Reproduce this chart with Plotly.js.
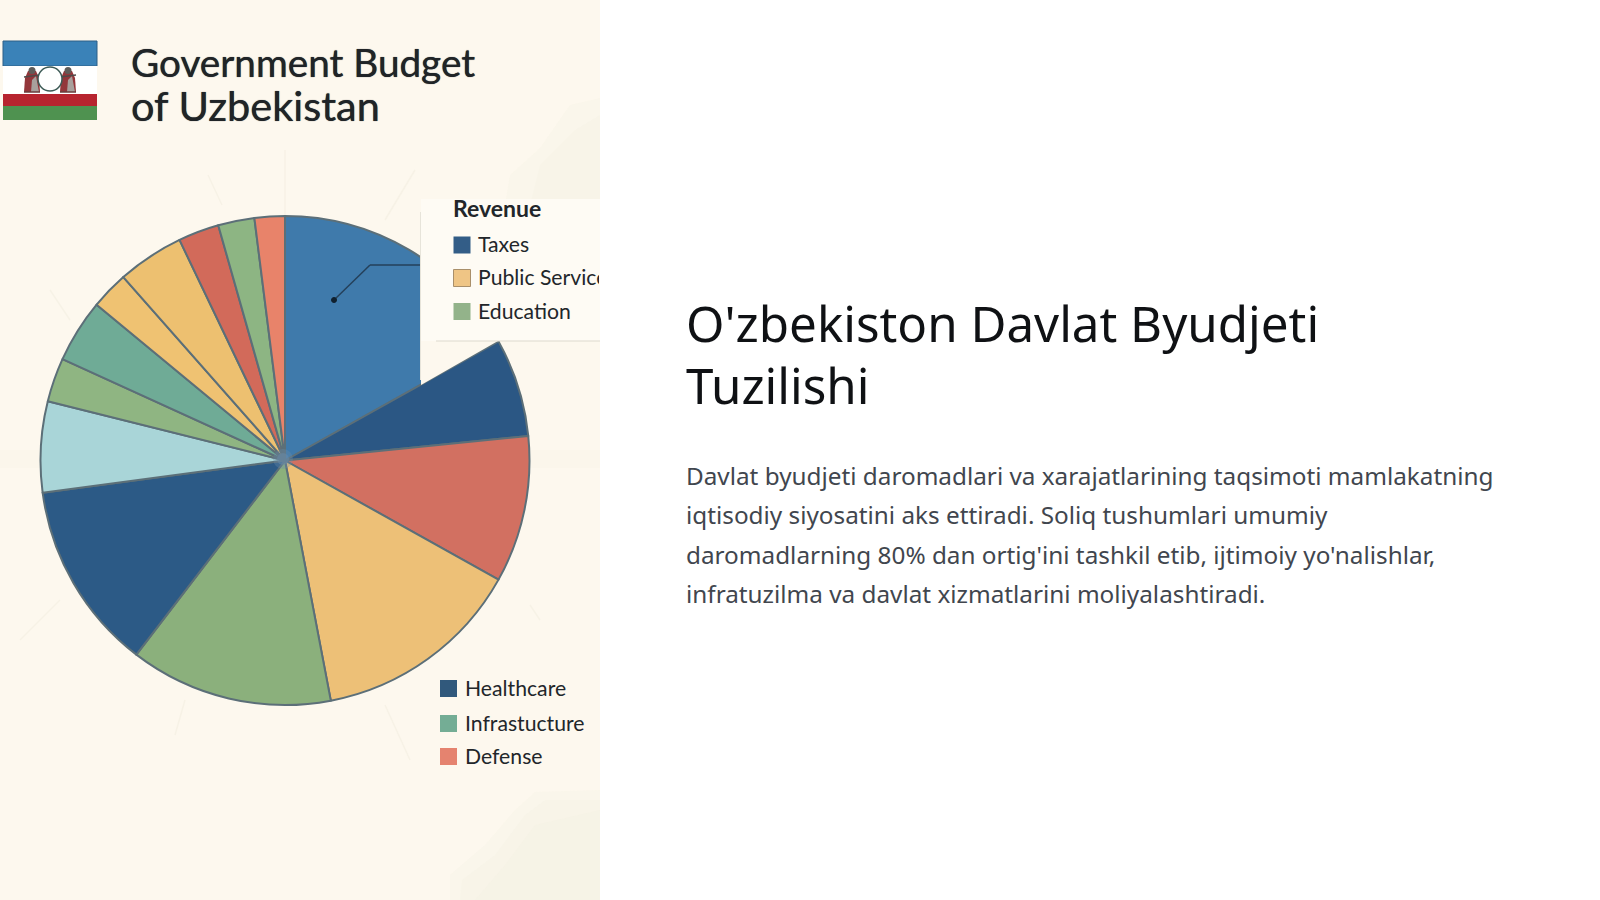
<!DOCTYPE html>
<html><head><meta charset="utf-8">
<script src="https://cdn.plot.ly/plotly-3.0.1.min.js"></script>
<style>html,body{margin:0;padding:0;background:#fff}#c{width:1600px;height:900px}</style>
</head><body><div id="c"></div>
<script>
const sliceLabels = ["Taxes A","Taxes B","Defense A","Public Service A","Education A","Healthcare A","Other A","Education B","Infrastucture A","Public Service B","Public Service C","Defense B","Education C","Defense C"];
const sliceValues = [16.9,6.5,9.7,13.9,13.4,12.5,6.0,2.9,4.2,2.5,4.4,2.7,2.4,2.0];
const sliceColors = ["#3f7aab","#2b5784","#d27061","#edc077","#8bb07c","#2c5a86","#a9d5d8","#8fb582","#6fab96","#efc272","#edc070","#d26a5a","#8db583","#e8836a"];

const topLegendTitle = "Revenue";
const topLegendLabels = ["Taxes","Public Service","Education"];
const topLegendColors = ["#335d87","#efc585","#93b38a"];
const bottomLegendLabels = ["Healthcare","Infrastucture","Defense"];
const bottomLegendColors = ["#31597c","#74ad95","#e5836f"];

const chartTitleLines = ["Government Budget","of Uzbekistan"];
const chartTitleSizes = [38.7,41.5];
const headingLines = ["O'zbekiston Davlat Byudjeti","Tuzilishi"];
const bodyLines = [
  "Davlat byudjeti daromadlari va xarajatlarining taqsimoti mamlakatning",
  "iqtisodiy siyosatini aks ettiradi. Soliq tushumlari umumiy",
  "daromadlarning 80% dan ortig'ini tashkil etib, ijtimoiy yo'nalishlar,",
  "infratuzilma va davlat xizmatlarini moliyalashtiradi."
];

const W = 1600, H = 900;
const px = x => x / W, py = y => 1 - y / H;
const rect = (x0, y0, x1, y1, fill, layer, stroke) => ({type:"rect", xref:"paper", yref:"paper", x0:px(x0), x1:px(x1), y0:py(y0), y1:py(y1), fillcolor:fill, line:stroke?{color:stroke,width:1}:{width:0}, layer:layer||"below"});
const seg = (x0, y0, x1, y1, color, w, layer) => ({type:"line", xref:"paper", yref:"paper", x0:px(x0), x1:px(x1), y0:py(y0), y1:py(y1), line:{color:color, width:w}, layer:layer||"below"});
const pathShape = (pts, fill, layer) => ({type:"path", xref:"paper", yref:"paper", path:"M"+pts.map(p=>px(p[0])+","+py(p[1])).join(" L")+" Z", fillcolor:fill, line:{width:0}, layer:layer||"below"});
const circle = (cx, cy, r, fill, stroke, w, layer) => ({type:"circle", xref:"paper", yref:"paper", x0:px(cx-r), x1:px(cx+r), y0:py(cy+r), y1:py(cy-r), fillcolor:fill, line:{color:stroke, width:w}, layer:layer||"above"});
const text = (s, x, y, size, color, family, extra) => Object.assign({xref:"paper", yref:"paper", x:px(x), y:py(y), text:s, showarrow:false, xanchor:"left", yanchor:"middle", align:"left", font:{size:size, color:color, family:family}}, extra||{});

const CREAM = "#fdf8ee", RAY = "#f7f2e6", SOFT = "rgba(240,236,220,0.17)";
const figure = cx => [
  pathShape([[cx-8,92],[cx-7,78],[cx-4,71],[cx+4,71],[cx+7,78],[cx+8,92]],"#93363a"),
  pathShape([[cx-1,92],[cx,80],[cx+4,76],[cx+7,92]],"#a8a09c"),
  circle(cx,70.5,3.5,"#5f5c59","#5f5c59",0,"below"),
  seg(cx-8,77,cx+8,75,"#4e4a48",1.5),
  seg(cx-8,92,cx+8,92,"#6a3c3c",1.5)
];
const shapes = [
  rect(0,0,600,900,CREAM),
  pathShape([[600,98],[600,205],[505,205],[510,175],[540,148],[570,105]],SOFT),
  pathShape([[600,115],[600,205],[530,205],[540,165],[575,130]],SOFT),
  pathShape([[600,790],[600,900],[450,900],[450,875],[485,845],[515,810],[535,792]],SOFT),
  pathShape([[600,800],[600,900],[460,900],[462,880],[495,855],[525,815],[545,800]],SOFT),
  pathShape([[600,810],[600,900],[475,900],[505,865],[535,825]],SOFT),
  rect(0,450,40,468,"#fbf6eb"), rect(530,450,600,468,"#fbf6eb"),
  seg(285,150,285,216,RAY,1.5), seg(208,175,222,205,RAY,1.5), seg(415,170,385,220,RAY,1.5),
  seg(50,290,70,320,RAY,1.5), seg(20,640,60,600,RAY,1.5), seg(175,735,185,700,RAY,1.5),
  seg(385,705,410,760,RAY,1.5), seg(530,605,540,620,RAY,1.5),

  // flag
  rect(3,41,97,66,"#3a82b8","below","#2c5f86"), rect(3,66,97,94,"#ffffff"), rect(3,94,97,106,"#b7242f"), rect(3,106,97,120,"#4f9250"),
  ...figure(32), ...figure(68),
  circle(50,79,12,"#ffffff","#3c5a55",1.5,"below"),

  // legend panel covering the part of the first slice
  rect(421,199,600,341,"#fefbf4","above"),
  pathShape([[421,341],[498,341],[421,385]],CREAM,"above"),
  seg(420.5,212,420.5,380,"#e7e4da",1,"above"),
  seg(436,341,600,341,"#ddd9cd",1.2,"above"),

  // callout on the first slice
  seg(334,300,370,265,"#24405a",1.5,"above"),
  seg(370,265,420,265,"#24405a",1.5,"above"),
  circle(334,300,2.5,"#10202e","#10202e",1,"above"),

  // soft hub where the slices meet
  circle(283,459,10,"rgba(105,140,170,0.35)","rgba(105,140,170,0)",0,"above"),
  circle(283,459,6,"rgba(105,140,170,0.5)","rgba(105,140,170,0)",0,"above")
];

const topY = [245,278,311.5], botY = [688.5,723.5,756.5];
const swatchEdge = [null,"#a98f6a",null];
topLegendColors.forEach((c,i)=>shapes.push(rect(453.5,topY[i]-8.5,470.5,topY[i]+8.5,c,"above",swatchEdge[i])));
bottomLegendColors.forEach((c,i)=>shapes.push(rect(440,botY[i]-8.5,457,botY[i]+8.5,c,"above")));

const LATO = "Lato, sans-serif", NOTO = "'Noto Sans', sans-serif";
const annotations = [];
const titleY = [62,105];
chartTitleLines.forEach((s,i)=>{
  const a = text(s,129,titleY[i],chartTitleSizes[i],"#202427",LATO);
  a.font.shadow = "0 0 0.8px #202427";
  annotations.push(a);
});
annotations.push(text("<b>"+topLegendTitle+"</b>",451.5,208,23,"#22262a",LATO));
topLegendLabels.forEach((s,i)=>{
  const extra = (s === "Public Service") ? {width:121} : {};
  annotations.push(text(s,476,topY[i]-1,21.2,"#22262a",LATO,extra));
});
bottomLegendLabels.forEach((s,i)=>annotations.push(text(s,463,botY[i]-1,21.2,"#22262a",LATO)));
const headY = [322,384];
headingLines.forEach((s,i)=>annotations.push(text(s,684,headY[i],49.3,"#0f1114",NOTO)));
const bodyY = [475.5,514.5,554.5,593.5];
bodyLines.forEach((s,i)=>annotations.push(text(s,684,bodyY[i],24.3,"#41464e",NOTO)));

const trace = {
  type:"pie", labels:sliceLabels, values:sliceValues, sort:false, direction:"clockwise", rotation:0,
  marker:{colors:sliceColors, line:{color:"#5c6f78", width:2}},
  textinfo:"none", hoverinfo:"label+percent", showlegend:false,
  domain:{x:[px(40),px(530)], y:[py(705),py(216)]}
};
Plotly.newPlot("c",[trace],{
  width:W, height:H, margin:{l:0,r:0,t:0,b:0}, paper_bgcolor:"#ffffff", showlegend:false,
  shapes:shapes, annotations:annotations
},{displayModeBar:false,staticPlot:true});
</script></body></html>
